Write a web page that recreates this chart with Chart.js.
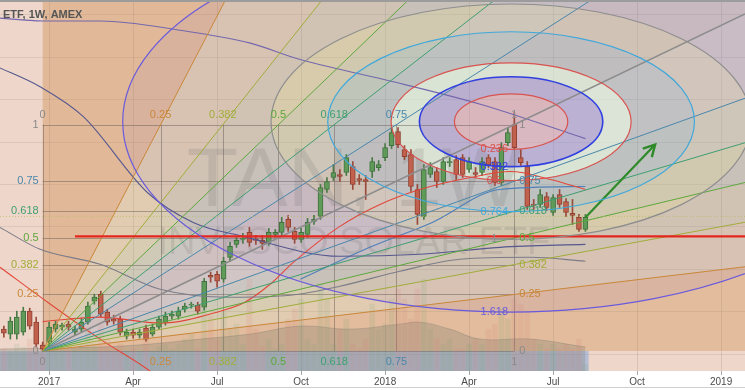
<!DOCTYPE html>
<html>
<head>
<meta charset="utf-8">
<script src="https://cdn.jsdelivr.net/npm/chart.js@4.4.0/dist/chart.umd.min.js"></script>
<style>
  html, body { margin: 0; padding: 0; background: #fff; }
  #wrap { width: 745px; height: 390px; }
</style>
</head>
<body>
<div id="wrap"><canvas id="chart" width="745" height="390"></canvas></div>
<script>
// weekly bars, week 0 = first week of Jan 2017
const firstWeek = -7;
const opens = [17.80,17.60,17.60,17.68,18.52,18.08,17.16,
  17.28,17.80,17.88,18.00,17.68,17.80,18.08,18.92,19.20,18.48,18.20,
  18.20,17.52,17.68,17.56,17.84,17.60,17.88,18.08,18.32,18.32,
  18.60,18.76,18.76,18.68,19.96,20.00,19.80,20.68,21.20,21.40,
  21.68,21.40,21.36,21.28,21.60,21.68,22.20,21.72,21.40,21.60,
  22.12,22.32,23.40,23.88,24.00,24.08,24.32,23.84,23.80,24.12,
  24.28,24.68,25.16,25.72,25.00,24.80,23.40,22.32,24.00,24.12,
  23.72,24.48,24.60,24.68,24.20,24.08,24.08,24.68,24.52,23.68,
  25.28,26.00,24.68,24.32,22.80,22.80,23.12,22.48,23.20,22.92,
  22.44,22.28,21.80];
const highs = [17.92,18.28,18.52,18.68,18.64,18.28,17.28,
  18.08,18.12,18.04,18.12,17.92,18.24,18.88,19.20,19.32,18.60,18.36,
  18.32,17.80,17.80,17.80,17.96,18.00,18.32,18.48,18.52,18.68,
  18.84,18.88,18.88,19.84,20.08,20.12,20.68,21.28,21.48,21.64,
  21.88,21.56,21.56,21.84,21.80,22.28,22.36,21.88,21.84,22.24,
  22.36,23.60,23.88,24.40,24.20,24.80,24.52,24.00,23.96,24.68,
  24.56,25.24,25.88,25.88,25.16,25.00,23.60,24.40,24.48,24.28,
  24.68,24.68,24.76,24.80,24.68,24.28,24.68,24.80,24.68,25.28,
  25.88,26.48,25.00,24.52,23.00,23.40,23.28,23.20,23.40,23.04,
  23.00,22.40,22.40];
const lows = [17.48,17.40,17.40,17.56,17.80,17.08,16.92,
  17.08,17.68,17.76,17.76,17.56,17.68,18.00,18.80,18.28,17.96,18.00,
  17.56,17.40,17.44,17.44,17.32,17.52,17.80,17.96,18.20,18.20,
  18.48,18.64,18.40,18.56,19.68,19.48,19.68,20.52,21.08,21.24,
  21.12,21.20,21.00,21.16,21.48,21.56,21.72,21.24,21.28,21.48,
  22.00,22.20,23.28,23.76,23.72,23.96,23.40,23.60,23.00,23.88,
  24.16,24.56,25.04,25.08,24.60,23.32,22.00,22.20,23.88,23.48,
  23.60,24.32,23.80,23.88,24.08,23.88,23.96,24.28,23.56,23.56,
  25.16,25.00,24.36,22.60,22.60,22.68,22.56,22.36,22.68,22.32,
  22.00,21.72,21.72];
const closes = [17.64,18.12,18.28,18.52,17.92,17.20,17.00,
  17.88,18.00,17.96,17.88,17.80,18.08,18.72,19.08,18.40,18.08,18.12,
  17.68,17.68,17.56,17.68,17.40,17.88,18.20,18.32,18.40,18.52,
  18.72,18.80,18.52,19.72,19.88,19.72,20.52,21.12,21.36,21.44,
  21.28,21.36,21.24,21.68,21.68,22.08,21.88,21.40,21.68,22.08,
  22.20,23.48,23.72,24.08,23.92,24.68,23.60,23.76,23.72,24.52,
  24.40,25.08,25.68,25.20,24.72,23.52,22.40,24.20,24.28,23.72,
  24.52,24.52,24.00,24.00,24.52,24.00,24.52,24.40,23.68,25.08,
  25.68,25.08,24.48,22.72,22.76,23.20,22.68,23.08,22.80,22.48,
  22.36,21.80,22.28];
const volumes = [1.1,1.0,1.35,1.2,1.6,1.85,1.35,
  1.7,1.1,1.0,1.0,1.1,1.35,2.1,1.35,2.35,1.6,1.1,
  1.35,1.0,1.1,1.0,1.6,1.0,1.2,1.35,1.1,1.35,
  1.6,1.85,1.1,4.45,2.75,1.6,2.95,2.1,2.35,1.35,
  4.6,2.1,1.25,1.6,1.1,1.35,2.6,3.1,3.6,1.6,
  1.35,4.35,3.6,1.35,2.1,2.6,1.35,1.1,1.6,3.35,
  2.1,2.35,3.6,4.1,3.6,2.6,4.1,4.6,2.1,1.6,
  1.35,1.6,1.1,1.1,1.35,1.6,1.35,2.1,2.35,3.1,
  2.6,3.6,3.35,3.0,1.6,1.35,1.1,1.35,1.1,1.35,
  1.1,1.6,0.35];
const volumeAvg = [[-7.6,1.1],[7.9,1.2],[15.6,1.35],[23.4,1.6],[31.1,1.85],[38.9,2.25],
  [46.6,2.1],[54.3,2.35],[57.4,2.45],[62,2.1],[66.7,1.6],[74.5,1.6],[83,1.2]];

// moving averages [week, price]
const maPurple = [[-8,30.28],[-1,30.16],[8,30.16],[20,29.8],[31,29.28],[39,28.6],[52,27.8],[67,26.8],[83,25.44]];
const maSlate = [[-8,28.32],[-1.4,27.52],[5.3,26.32],[15.2,23.28],[22.3,22.08],[30,21.52],[45,20.72],[57.4,20.8],[69.8,21.08],[83,21.2]];
const maGray = [[-7.6,21.88],[-1.4,21.0],[7.9,20.4],[17.2,19.4],[28,19.08],[37.3,19.16],[45,19.52],[54.3,20.12],[63.6,20.6],[74.5,20.68],[83,20.52]];
const maRed = [[-1,18.1],[7.9,18.28],[17.2,18.04],[26.5,18.52],[30.3,18.88],[34.2,19.6],[37.8,20.48],[45,21.92],[51.2,22.8],[57.4,23.4],[65.2,23.88],[71.4,24.12],[77.6,23.8],[83,23.4]];
const maRedFast = [[-7.6,20.28],[0.2,18.8],[7.9,17.4],[15.6,16.12],[18,15.6]];
const maBlue = [[38.9,19.8],[50,21.12],[59.3,22.08],[69.7,23.4],[83,23.52]];

// axis
const tickWeeks = [0, 13, 26, 39, 52, 65, 78, 91, 104];
const tickLabels = ['2017', 'Apr', 'Jul', 'Oct', '2018', 'Apr', 'Jul', 'Oct', '2019'];
const gridPrices = [30.4, 28.7, 27.0, 25.3, 23.6, 21.9, 20.2, 18.5, 16.8];
const xMin = -7.6, xMax = 107.7, yMin = 16.12, yMax = 31.0, volMax = 18.6;

// gann box / fan
const boxStart = -1, boxEnd = 72, boxLow = 16.92, boxHigh = 26.0;
const gannLevels = [0, 0.25, 0.382, 0.5, 0.618, 0.75, 1];
const gannColors = ['#8a8a8a', '#c9873a', '#a0ad3a', '#5da83c', '#3f9e72', '#4a87aa', '#8a8a8a'];
const fanLevels = [0.25, 0.382, 0.5, 0.618, 0.75];
const wedgeColors = ['rgba(205,140,78,0.40)', 'rgba(195,180,120,0.30)', 'rgba(165,180,125,0.30)',
  'rgba(130,170,140,0.28)', 'rgba(120,155,175,0.28)', 'rgba(150,145,170,0.33)',
  'rgba(135,150,190,0.28)', 'rgba(120,155,175,0.28)', 'rgba(130,170,140,0.28)',
  'rgba(165,180,125,0.30)', 'rgba(195,175,120,0.30)', 'rgba(205,140,78,0.36)'];

// fib circles
const fibCenter = [71.5, 26.12];
const fibRadius = [37.15, 4.72];
const fibLevels = [0.236, 0.382, 0.5, 0.764, 1, 1.618];
const fibColors = ['#d9534f', '#2f3fe0', '#d9534f', '#40a8da', '#8e8e8e', '#6a5add'];
const fibFills = ['rgba(235,160,185,0.32)', 'rgba(140,140,240,0.32)', 'rgba(225,248,225,0.6)',
  'rgba(120,175,190,0.18)', 'rgba(215,200,150,0.22)', 'rgba(140,120,200,0.10)'];

// other drawings
const support = { from: 4, to: 110, price: 21.52 };
const dottedLevel = 22.32;
const arrow = [[83, 22.28], [93.8, 25.2]];
const band = { from: -8, to: 83.5 };

const boxW = boxEnd - boxStart, boxH = boxHigh - boxLow;
const levelColor = f => gannColors[gannLevels.indexOf(f)];

const rays = [];
fanLevels.forEach(f => rays.push({ dx: f * boxW, dy: boxH, color: levelColor(f) }));
rays.push({ dx: boxW, dy: boxH, color: '#8c8c8c' });
fanLevels.slice().reverse().forEach(f => rays.push({ dx: boxW, dy: f * boxH, color: levelColor(f) }));

const weekOf = i => firstWeek + i;
const isUp = i => closes[i] >= opens[i];
const pts = arr => arr.map(p => ({ x: p[0], y: p[1] }));

const datasets = [];
datasets.push({ type: 'line', data: [{ x: support.from, y: support.price }, { x: support.to, y: support.price }],
  borderColor: '#e5261f', borderWidth: 2.2, pointRadius: 0, order: 0 });
datasets.push({ type: 'line', data: pts(arrow), borderColor: '#2f8a2a', borderWidth: 2.2, pointRadius: 0, order: 0 });
datasets.push({ type: 'line', data: [{ x: xMin, y: dottedLevel }, { x: xMax, y: dottedLevel }],
  borderColor: 'rgba(180,190,100,0.8)', borderWidth: 1, borderDash: [1, 2], pointRadius: 0, order: 1 });
rays.forEach((r, k) => {
  const kk = (xMax - boxStart) / r.dx;
  datasets.push({ type: 'line', data: [{ x: boxStart, y: boxLow }, { x: boxStart + kk * r.dx, y: boxLow + kk * r.dy }],
    borderColor: r.color, borderWidth: k === 5 ? 1.6 : 1, pointRadius: 0, order: 1 });
});
[[maPurple, '#7467ad'], [maSlate, '#56588f'], [maGray, '#7c7c88'], [maRed, '#e2473b'], [maRedFast, '#e2473b'], [maBlue, '#4f7fb8']]
  .forEach(([arr, c]) => datasets.push({ type: 'line', data: pts(arr), borderColor: c, borderWidth: 1.1,
    pointRadius: 0, tension: 0.4, cubicInterpolationMode: 'monotone', order: 2 }));
datasets.push({ type: 'bar', grouped: false, order: 3, barThickness: 5, minBarLength: 1, borderSkipped: false, borderWidth: 1,
  data: opens.map((o, i) => ({ x: weekOf(i), y: [o, closes[i]] })),
  backgroundColor: opens.map((o, i) => isUp(i) ? '#5f9a58' : '#c1604c'),
  borderColor: opens.map((o, i) => isUp(i) ? '#40723f' : '#8f4232') });
datasets.push({ type: 'bar', grouped: false, order: 4, barThickness: 1,
  data: highs.map((h, i) => ({ x: weekOf(i), y: [lows[i], h] })),
  backgroundColor: opens.map((o, i) => isUp(i) ? '#4a7a47' : '#9a4a3a') });
datasets.push({ type: 'bar', grouped: false, order: 5, barThickness: 5, yAxisID: 'vol',
  data: volumes.map((v, i) => ({ x: weekOf(i), y: v })),
  backgroundColor: opens.map((o, i) => isUp(i) ? 'rgba(110,160,110,0.12)' : 'rgba(210,115,105,0.12)') });
datasets.push({ type: 'line', yAxisID: 'vol', order: 6, data: pts(volumeAvg), fill: 'origin',
  backgroundColor: 'rgba(115,115,105,0.26)', borderColor: 'rgba(115,115,105,0.3)', borderWidth: 1,
  pointRadius: 0, tension: 0.4 });

function ellipsePath(ctx, cx, cy, rx, ry) {
  ctx.moveTo(cx + rx, cy);
  ctx.ellipse(cx, cy, rx, ry, 0, 0, Math.PI * 2);
}

const overlay = {
  id: 'overlay',
  beforeDraw(chart) {
    const { ctx, chartArea: a, width, height } = chart;
    ctx.save();
    ctx.fillStyle = '#ffffff';
    ctx.fillRect(0, 0, width, height);
    ctx.fillStyle = '#eed7ca';
    ctx.fillRect(a.left, a.top, a.right - a.left, a.bottom - a.top);
    ctx.restore();
  },
  beforeDatasetsDraw(chart) {
    const { ctx, chartArea: a } = chart;
    const x = chart.scales.x, y = chart.scales.y;
    const px = v => x.getPixelForValue(v), py = v => y.getPixelForValue(v);
    ctx.save();
    ctx.beginPath();
    ctx.rect(a.left, a.top, a.right - a.left, a.bottom - a.top);
    ctx.clip();

    // fan wedges
    const bounds = [{ dx: 0, dy: boxH }, ...rays, { dx: boxW, dy: 0 }];
    const ox = px(boxStart), oy = py(boxLow);
    for (let i = 0; i < bounds.length - 1; i++) {
      const b1 = bounds[i], b2 = bounds[i + 1];
      ctx.beginPath();
      ctx.moveTo(ox, oy);
      ctx.lineTo(px(boxStart + 20 * b1.dx), py(boxLow + 20 * b1.dy));
      ctx.lineTo(px(boxStart + 20 * b2.dx), py(boxLow + 20 * b2.dy));
      ctx.closePath();
      ctx.fillStyle = wedgeColors[i];
      ctx.fill();
    }

    // fib circle rings
    const cx = px(fibCenter[0]), cy = py(fibCenter[1]);
    const rx0 = px(fibCenter[0] + fibRadius[0]) - cx, ry0 = cy - py(fibCenter[1] + fibRadius[1]);
    fibLevels.forEach((lv, i) => {
      ctx.beginPath();
      ellipsePath(ctx, cx, cy, rx0 * lv, ry0 * lv);
      if (i > 0) ellipsePath(ctx, cx, cy, rx0 * fibLevels[i - 1], ry0 * fibLevels[i - 1]);
      ctx.fillStyle = fibFills[i];
      ctx.fill('evenodd');
    });

    // blue band under the box
    ctx.fillStyle = 'rgba(115,160,225,0.45)';
    ctx.fillRect(px(band.from), py(boxLow), px(band.to) - px(band.from), py(yMin) - py(boxLow));

    // watermark
    ctx.fillStyle = 'rgba(85,85,85,0.14)';
    ctx.textAlign = 'center';
    ctx.textBaseline = 'alphabetic';
    const wx = a.left + (a.right - a.left) * 0.475;
    ctx.font = '84px "Liberation Sans", Arial, sans-serif';
    ctx.fillText('TAN, 1W', wx, 206);
    ctx.font = '38px "Liberation Sans", Arial, sans-serif';
    ctx.fillText('INVESCO SOLAR ETF', wx, 254);

    // gann box grid
    ctx.strokeStyle = 'rgba(95,85,80,0.45)';
    ctx.lineWidth = 1;
    gannLevels.forEach(f => {
      const yy = Math.round(py(boxLow + f * boxH)) + 0.5;
      const xx = Math.round(px(boxStart + f * boxW)) + 0.5;
      ctx.beginPath();
      ctx.moveTo(px(boxStart), yy); ctx.lineTo(px(boxEnd), yy);
      ctx.moveTo(xx, py(boxLow)); ctx.lineTo(xx, py(boxHigh));
      ctx.stroke();
    });
    ctx.restore();
  },
  afterDatasetsDraw(chart) {
    const { ctx, chartArea: a } = chart;
    const x = chart.scales.x, y = chart.scales.y;
    const px = v => x.getPixelForValue(v), py = v => y.getPixelForValue(v);
    ctx.save();
    ctx.beginPath();
    ctx.rect(a.left, a.top, a.right - a.left, a.bottom - a.top);
    ctx.clip();

    // fib circle outlines
    const cx = px(fibCenter[0]), cy = py(fibCenter[1]);
    const rx0 = px(fibCenter[0] + fibRadius[0]) - cx, ry0 = cy - py(fibCenter[1] + fibRadius[1]);
    fibLevels.forEach((lv, i) => {
      ctx.beginPath();
      ellipsePath(ctx, cx, cy, rx0 * lv, ry0 * lv);
      ctx.strokeStyle = fibColors[i];
      ctx.lineWidth = i === 1 ? 1.6 : 1.2;
      ctx.stroke();
    });

    // arrow head
    const tx = px(arrow[1][0]), ty = py(arrow[1][1]);
    const ang = Math.atan2(ty - py(arrow[0][1]), tx - px(arrow[0][0]));
    ctx.strokeStyle = '#2f8a2a';
    ctx.lineWidth = 2.4;
    ctx.beginPath();
    ctx.moveTo(tx - 13 * Math.cos(ang - 0.5), ty - 13 * Math.sin(ang - 0.5));
    ctx.lineTo(tx, ty);
    ctx.lineTo(tx - 13 * Math.cos(ang + 0.5), ty - 13 * Math.sin(ang + 0.5));
    ctx.stroke();

    // gann labels
    ctx.font = '11px "Liberation Sans", Arial, sans-serif';
    ctx.textBaseline = 'middle';
    gannLevels.forEach((f, i) => {
      const label = String(f);
      ctx.fillStyle = gannColors[i];
      const yy = py(boxLow + f * boxH), xx = px(boxStart + f * boxW);
      ctx.textAlign = 'right';
      ctx.fillText(label, px(boxStart) - 4, yy);
      ctx.textAlign = 'left';
      ctx.fillText(label, px(boxEnd) + 5, yy);
      ctx.textAlign = 'center';
      ctx.fillText(label, xx, py(boxHigh) - 10);
      ctx.fillText(label, xx, py(boxLow) + 11);
    });

    // fib labels
    fibLevels.forEach((lv, i) => {
      ctx.fillStyle = fibColors[i];
      ctx.textAlign = 'center';
      ctx.fillText(String(lv), px(fibCenter[0] - 2.6), cy + ry0 * lv);
    });
    ctx.restore();

    // header
    ctx.save();
    ctx.fillStyle = '#9c9c9c';
    ctx.fillRect(0, 0, chart.width, 2);
    ctx.font = 'bold 11px "Liberation Sans", Arial, sans-serif';
    ctx.fillStyle = '#555';
    ctx.textBaseline = 'middle';
    ctx.textAlign = 'left';
    const pre = ctx.measureText('Solar ').width;
    ctx.fillText('Solar ETF, 1W, AMEX', 3 - pre, 15);
    ctx.fillStyle = '#cfcfcf';
    ctx.fillRect(0, chart.height - 3, chart.width, 1);
    ctx.restore();
  }
};

new Chart(document.getElementById('chart'), {
  type: 'line',
  data: { datasets },
  options: {
    responsive: false,
    animation: false,
    devicePixelRatio: 1,
    layout: { padding: { left: 0, right: 0, top: 0, bottom: 1 } },
    plugins: { legend: { display: false }, tooltip: { enabled: false } },
    scales: {
      x: {
        type: 'linear', min: xMin, max: xMax, offset: false,
        afterBuildTicks: s => { s.ticks = tickWeeks.map(v => ({ value: v })); },
        ticks: {
          autoSkip: false, maxRotation: 0, padding: 1, color: '#4a4a4a',
          font: { family: '"Liberation Sans", Arial, sans-serif', size: 10 },
          callback: v => tickLabels[tickWeeks.indexOf(v)]
        },
        grid: { color: 'rgba(110,100,100,0.18)', tickColor: 'rgba(110,110,110,0.6)', tickLength: 4, offset: false },
        border: { display: false }
      },
      y: {
        type: 'linear', min: yMin, max: yMax, position: 'left',
        afterBuildTicks: s => { s.ticks = gridPrices.map(v => ({ value: v })); },
        afterFit: s => { s.width = 0; },
        ticks: { display: false },
        grid: { color: 'rgba(110,100,100,0.15)', drawTicks: false },
        border: { display: false }
      },
      vol: { type: 'linear', display: false, min: 0, max: volMax }
    }
  },
  plugins: [overlay]
});
</script>
</body>
</html>
